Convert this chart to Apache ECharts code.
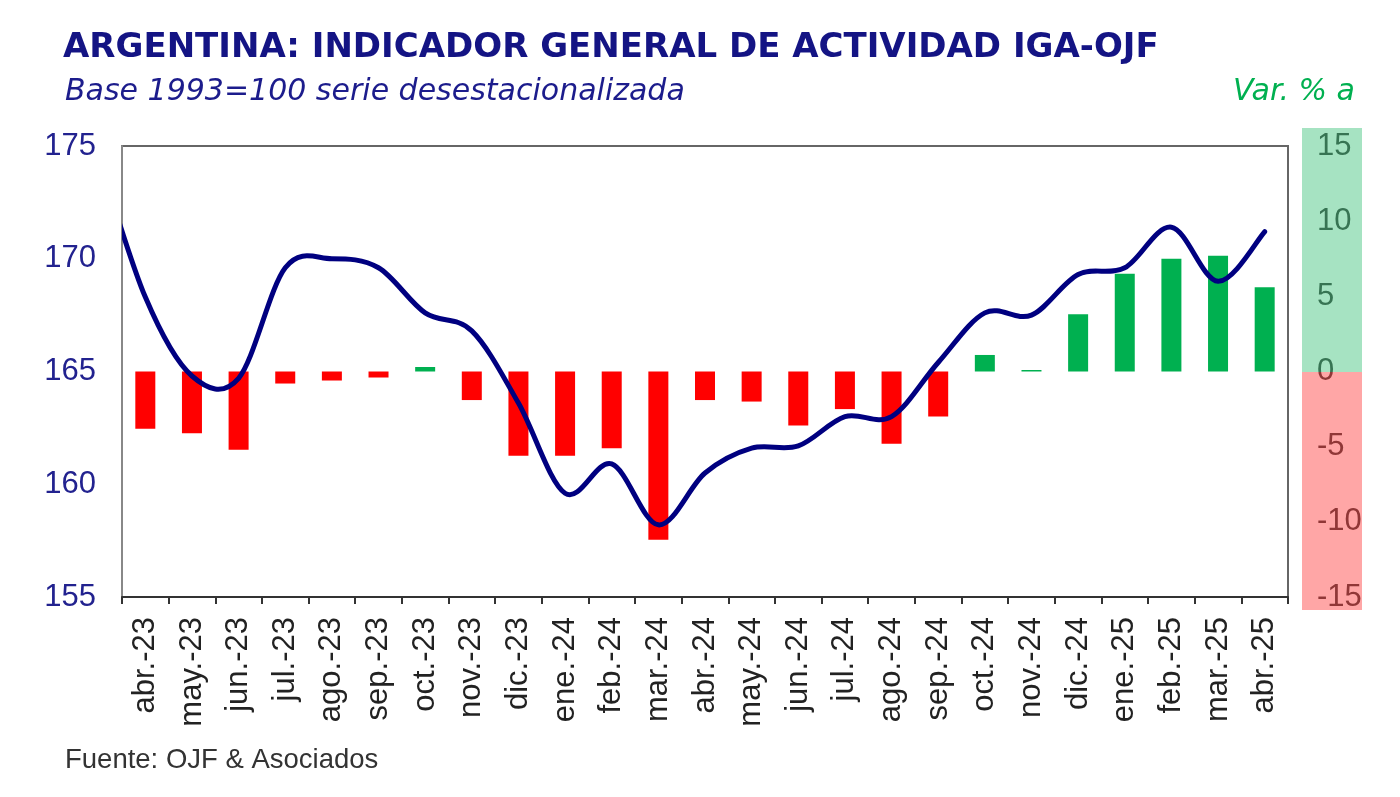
<!DOCTYPE html>
<html>
<head>
    <meta charset="UTF-8">
    <script src="https://cdn.jsdelivr.net/npm/echarts@6/dist/echarts.min.js"></script>
    <style>
        html, body { margin:0; padding:0; background:#fff; }
        #chart { width:1400px; height:797px; }
    </style>
</head>
<body>
<div id="chart"></div>
<script>
    // categorias del eje x (meses)
    var meses = ['abr.-23','may.-23','jun.-23','jul.-23','ago.-23','sep.-23','oct.-23','nov.-23','dic.-23',
                 'ene.-24','feb.-24','mar.-24','abr.-24','may.-24','jun.-24','jul.-24','ago.-24','sep.-24',
                 'oct.-24','nov.-24','dic.-24','ene.-25','feb.-25','mar.-25','abr.-25'];

    // variacion % anual (barras, eje derecho)
    var varAnual = [-3.8, -4.1, -5.2, -0.8, -0.6, -0.4, 0.3, -1.9, -5.6,
                    -5.6, -5.1, -11.2, -1.9, -2.0, -3.6, -2.5, -4.8, -3.0,
                    1.1, 0.1, 3.8, 6.5, 7.5, 7.7, 5.6];

    // indice desestacionalizado (linea, eje izquierdo); el primer valor es mar.-23, queda cortado por el borde
    var indiceMeses = ['mar.-23'].concat(meses);
    var indice = [174.5, 168.3, 164.8, 164.7, 169.6, 170.0, 169.6, 167.6, 166.8, 163.6,
                  159.6, 160.9, 158.2, 160.5, 161.6, 161.7, 163.0, 163.0, 165.4,
                  167.6, 167.5, 169.3, 169.6, 171.4, 169.0, 171.2];

    var ejeIzq = { min:155, max:175, interval:5 };
    var ejeDer = { min:-15, max:15, interval:5 };

    // posicion x = indice del mes respecto a abr.-23
    var lineData = indice.map(function(v, i){ return [i - 1, v]; });

    // curva suavizada tipo Excel (catmull-rom) a partir de los puntos ya convertidos por los ejes
    function renderCurva(params, api){
        if (params.dataIndex !== 0) return null;
        var pts = lineData.map(function(d){ return api.coord(d); });
        var path = 'M' + pts[0][0] + ' ' + pts[0][1];
        for (var i = 0; i < pts.length - 1; i++) {
            var p0 = pts[i - 1] || pts[i], p1 = pts[i], p2 = pts[i + 1], p3 = pts[i + 2] || pts[i + 1];
            var c1x = p1[0] + (p2[0] - p0[0]) / 6, c1y = p1[1] + (p2[1] - p0[1]) / 6;
            var c2x = p2[0] - (p3[0] - p1[0]) / 6, c2y = p2[1] - (p3[1] - p1[1]) / 6;
            path += ' C' + c1x + ' ' + c1y + ' ' + c2x + ' ' + c2y + ' ' + p2[0] + ' ' + p2[1];
        }
        var cs = params.coordSys;
        return {
            type:'path',
            shape:{ pathData:path },
            style:{ fill:null, stroke:'#000080', lineWidth:5, lineJoin:'round', lineCap:'round' },
            clipPath:{ type:'rect', shape:{ x:cs.x, y:cs.y - 10, width:cs.width, height:cs.height + 20 } }
        };
    }

    var chart = echarts.init(document.getElementById('chart'));
    chart.setOption({
        animation:false,
        backgroundColor:'#fff',
        title:[{
            text:'ARGENTINA: INDICADOR GENERAL DE ACTIVIDAD IGA-OJF',
            left:58, top:26,
            textStyle:{ fontFamily:'DejaVu Sans', fontWeight:'bold', fontSize:34, color:'#141484' }
        },{
            text:'Base 1993=100 serie desestacionalizada',
            left:60, top:72,
            textStyle:{ fontFamily:'DejaVu Sans', fontStyle:'italic', fontWeight:'normal', fontSize:30, color:'#1c1c8c' }
        },{
            text:'Var. % a',
            right:40, top:72,
            textStyle:{ fontFamily:'DejaVu Sans', fontStyle:'italic', fontWeight:'normal', fontSize:30, color:'#00b050' }
        },{
            text:'Fuente: OJF & Asociados',
            left:60, top:741,
            textStyle:{ fontFamily:'Liberation Sans', fontWeight:'normal', fontSize:27.5, color:'#333' }
        }],
        grid:{ left:122, right:112, top:146, bottom:200, show:true, borderColor:'#666', borderWidth:2, backgroundColor:'#fff' },
        xAxis:[{
            type:'category',
            data:meses,
            axisLine:{ onZero:false, lineStyle:{ color:'#333', width:2 } },
            axisTick:{ show:true, length:7, lineStyle:{ color:'#333', width:2 } },
            axisLabel:{ rotate:90, margin:20, fontFamily:'Liberation Sans', fontSize:31, color:'#222', interval:0 }
        },{
            type:'value',
            min:-0.5, max:24.5,
            show:false,
            axisLine:{ onZero:false }
        }],
        yAxis:[{
            type:'value',
            min:ejeIzq.min, max:ejeIzq.max, interval:ejeIzq.interval,
            axisLine:{ show:true, onZero:false, lineStyle:{ color:'#888', width:2 } },
            axisTick:{ show:false },
            splitLine:{ show:false },
            axisLabel:{ margin:26, fontFamily:'Liberation Sans', fontSize:31, color:'#22228f' }
        },{
            type:'value',
            min:ejeDer.min, max:ejeDer.max, interval:ejeDer.interval,
            axisLine:{ show:false, onZero:false },
            axisTick:{ show:false },
            splitLine:{ show:false },
            axisLabel:{ margin:29, fontFamily:'Liberation Sans', fontSize:31, color:'#555' }
        }],
        graphic:[{
            type:'rect', z:100,
            shape:{ x:1302, y:128, width:60, height:244 },
            style:{ fill:'rgba(0,176,80,0.35)' }
        },{
            type:'rect', z:100,
            shape:{ x:1302, y:372, width:60, height:238 },
            style:{ fill:'rgba(255,0,0,0.35)' }
        }],
        series:[{
            name:'Var. % a',
            type:'bar',
            xAxisIndex:0, yAxisIndex:1,
            data:varAnual,
            barWidth:20,
            itemStyle:{
                color:function(p){ return p.value < 0 ? '#ff0000' : '#00b050'; }
            }
        },{
            name:'IGA-OJF',
            type:'custom',
            xAxisIndex:1, yAxisIndex:0,
            data:lineData,
            renderItem:renderCurva,
            z:5
        }]
    });
</script>
</body>
</html>
